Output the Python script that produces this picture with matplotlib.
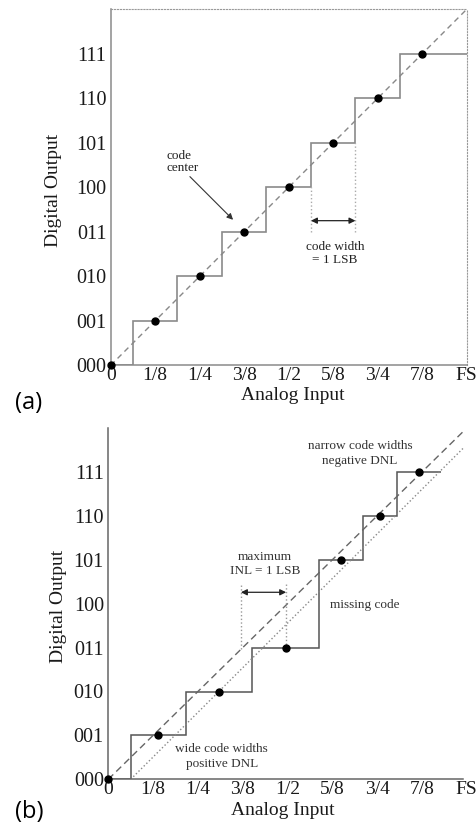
import numpy as np
import matplotlib.pyplot as plt

# codes and tick labels
codes = ['000', '001', '010', '011', '100', '101', '110', '111']
xticks = ['0', '1/8', '1/4', '3/8', '1/2', '5/8', '3/4', '7/8', 'FS']

# (a) ideal converter, x in units of 1/8 FS
edges_a = [0, 0.5, 1.5, 2.5, 3.5, 4.5, 5.5, 6.5, 8]
levels_a = [0, 1, 2, 3, 4, 5, 6, 7]
dot_x_a = [0, 1, 2, 3, 4, 5, 6, 7]
dot_y_a = [0, 1, 2, 3, 4, 5, 6, 7]

# (b) non-ideal converter (code 100 missing)
edges_b = [0, 0.5, 1.73, 3.21, 4.70, 5.69, 6.44, 7.42]
levels_b = [0, 1, 2, 3, 5, 6, 7]
dot_x_b = [0, 1.12, 2.47, 3.97, 5.19, 6.07, 6.93]
dot_y_b = [0, 1, 2, 3, 5, 6, 7]
fit_x_b = [0.5, 7.92]
fit_y_b = [0, 7.54]

serif = 'Liberation Serif'
W, H = 476, 833
fig = plt.figure(figsize=(W / 100, H / 100), dpi=100)

ax1 = fig.add_axes([110.7 / W, 1 - 365.3 / H, 356 / W, 356 / H])
ax2 = fig.add_axes([108.3 / W, 1 - 779.3 / H, 358.4 / W, 351.2 / H])


def base(ax, col):
    ax.set_xlim(0, 8)
    ax.set_ylim(0, 8)
    ax.set_xticks(range(9))
    ax.set_xticklabels(xticks, family=serif, fontsize=14)
    ax.set_yticks(range(8))
    ax.set_yticklabels(codes, family=serif, fontsize=14.5)
    ax.tick_params(length=0, colors='#1a1a1a')
    ax.tick_params(axis='y', pad=3.2)
    ax.tick_params(axis='x', pad=1.2)
    for s in ['left', 'bottom']:
        ax.spines[s].set_color(col)
        ax.spines[s].set_linewidth(1.1)
    ax.set_xlabel('Analog Input', family=serif, fontsize=14, color='#1a1a1a')
    ax.set_ylabel('Digital Output', family=serif, fontsize=14, color='#1a1a1a')


# ---- (a)
base(ax1, '#8a8a8a')
ax1.spines['top'].set_linestyle(':')
ax1.spines['right'].set_linestyle(':')
ax1.spines['top'].set_color('#999')
ax1.spines['right'].set_color('#999')
ax1.stairs(levels_a, edges_a, baseline=None, color='#8a8a8a', lw=1.2)
ax1.plot([0, 8], [0, 8], color='#888', lw=1, dashes=(4, 3))
ax1.plot(dot_x_a, dot_y_a, 'o', color='black', ms=5, clip_on=False, zorder=5)
ax1.vlines([4.5, 5.5], 3.0, [4, 5], colors='#aaa', linestyles=':', lw=1)
ax1.annotate('', xy=(4.5, 3.25), xytext=(5.5, 3.25),
             arrowprops=dict(arrowstyle='<|-|>', color='#222', lw=0.9,
                             mutation_scale=9, shrinkA=0, shrinkB=0))
ax1.text(5.04, 2.52, 'code width\n= 1 LSB', family=serif, fontsize=9.5,
         ha='center', va='center', color='#222', linespacing=1.1)
ax1.text(1.26, 4.57, 'code\ncenter', family=serif, fontsize=9.5,
         ha='left', va='center', color='#222', linespacing=0.95)
ax1.annotate('', xy=(2.75, 3.27), xytext=(1.78, 4.24),
             arrowprops=dict(arrowstyle='-|>', color='#333', lw=0.8,
                             mutation_scale=9, shrinkA=0, shrinkB=0))
ax1.xaxis.set_label_coords(0.511, -0.062)
ax1.yaxis.set_label_coords(-0.138, 0.49)

# ---- (b)
base(ax2, '#666')
ax2.spines['top'].set_visible(False)
ax2.spines['right'].set_visible(False)
ax2.spines['bottom'].set_bounds(0, 7.92)
ax2.stairs(levels_b, edges_b, baseline=None, color='#555', lw=1.1)
ax2.plot([0, 7.95], [0, 7.95], color='#666', lw=1, dashes=(5, 3))
ax2.plot(fit_x_b, fit_y_b, color='#888', lw=1, linestyle=':')
ax2.plot(dot_x_b, dot_y_b, 'o', color='black', ms=5, clip_on=False, zorder=5)
ax2.vlines([2.96, 3.97], [2.96, 3.0], 4.46, colors='#999', linestyles=':', lw=1)
ax2.annotate('', xy=(2.96, 4.26), xytext=(3.97, 4.26),
             arrowprops=dict(arrowstyle='<|-|>', color='#222', lw=0.9,
                             mutation_scale=9, shrinkA=0, shrinkB=0))
ax2.text(3.5, 4.9, 'maximum\nINL = 1 LSB', family=serif, fontsize=9.5,
         ha='center', va='center', color='#333', linespacing=1.25)
ax2.text(5.73, 3.97, 'missing code', family=serif, fontsize=9.5,
         ha='center', va='center', color='#333')
ax2.text(5.62, 7.42, 'narrow code widths\nnegative DNL', family=serif,
         fontsize=9.5, ha='center', va='center', color='#333', linespacing=1.25)
ax2.text(2.53, 0.52, 'wide code widths\npositive DNL', family=serif,
         fontsize=9.5, ha='center', va='center', color='#333', linespacing=1.25)
ax2.xaxis.set_label_coords(0.488, -0.066)
ax2.yaxis.set_label_coords(-0.116, 0.491)

# panel labels
fig.text(29 / W, 1 - 403 / H, '(a)', family='Open Sans', fontsize=17,
         ha='center', va='center', color='black')
fig.text(29 / W, 1 - 812 / H, '(b)', family='Open Sans', fontsize=17,
         ha='center', va='center', color='black')

fig.savefig('out.png', dpi=100)
